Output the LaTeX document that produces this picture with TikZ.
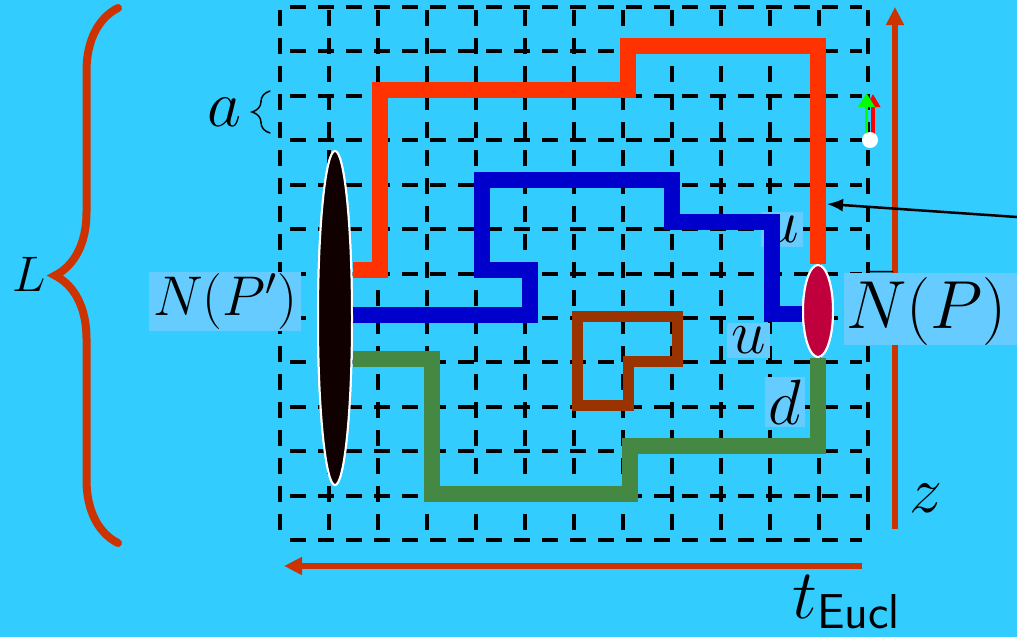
\RequirePackage{fix-cm}
\documentclass[tikz,border=0pt]{standalone}
\usepackage{tikz}
\usetikzlibrary{arrows.meta, shapes.geometric, decorations.pathreplacing, calc}
\definecolor{skyback}{HTML}{33CCFF}
\definecolor{tagback}{HTML}{66CCFF}
\definecolor{flame}{HTML}{FF3300}
\definecolor{rust}{HTML}{CC3300}
\definecolor{loopblue}{HTML}{0000CC}
\definecolor{loopgreen}{HTML}{448844}
\definecolor{loopbrown}{HTML}{993300}
\definecolor{crimson}{HTML}{C0003C}
\definecolor{nearblack}{HTML}{110000}
\newcommand{\fsz}[1]{\fontsize{#1}{#1}\selectfont}
\tikzset{
  gridline/.style={draw=black, line width=4pt, dash pattern=on 16pt off 12pt},
  linkpath/.style={line width=15.5pt, line join=miter},
  axisarrow/.style={draw=rust, line width=6pt, -{Triangle[length=18pt, width=17pt]}},
  pointer/.style={draw=black, line width=2.5pt, -{Latex[length=16pt, width=13pt]}},
  tag/.style={fill=tagback, inner sep=0pt, text=black},
  endcap/.style={ellipse, draw=white, line width=2pt, inner sep=0pt},
  bracket/.style={decorate, line cap=round},
}

\begin{document}
\begin{tikzpicture}[x=1pt, y=-1pt]
  \useasboundingbox (0,0) rectangle (1017,637);
  \fill[skyback] (0,0) rectangle (1017,637);

  % Lattice
  \foreach \i in {0,...,12}
    \draw[gridline] ({280+49*\i},10) -- ({280+49*\i},540);
  \foreach \j in {0,...,12}
    \draw[gridline] (290,{7+44.42*\j}) -- (862,{7+44.42*\j});

  % Axes
  \coordinate (zfoot) at (895,529);
  \coordinate (ztip) at (895,7);
  \coordinate (tfoot) at (862,566);
  \coordinate (ttip) at (284,566);
  \draw[axisarrow] (zfoot) -- (ztip);
  \draw[axisarrow] (tfoot) -- (ttip);

  % Braces
  \draw[bracket, draw=rust, line width=8pt, decoration={brace, amplitude=63pt}]
    (118,543) -- (118,8);
  \draw[bracket, draw=black, line width=1.5pt, decoration={brace, amplitude=18pt}]
    (270,133) -- (270,91);

  % Labels
  \node[font=\fsz{50}] (Llab) at (29,274) {$L$};
  \node[font=\fsz{66}] (alab) at (224.5,112.5) {$a$};
  \node[font=\fsz{66}] (zlab) at (926,498) {$z$};
  \node[font=\fsz{70}, anchor=base west] (tlab) at (789,618) {$t_{\mathsf{Eucl}}$};
  \node[tag, minimum width=152pt, minimum height=59pt, font=\fsz{56}] (nleft) at (225,301.5) {$N(P')$};
  \node[tag, anchor=west, text width=176pt, align=left, inner xsep=2pt, minimum height=68pt, font=\fsz{68}] (nright) at (844,309) {$\bar{N}(P)$};
  \node[tag, minimum width=42pt, minimum height=35pt, font=\fsz{62}] (uup) at (782,229.5) {$u$};
  \node[tag, minimum width=43pt, minimum height=35pt, font=\fsz{62}] (ulow) at (748.5,340.5) {$u$};
  \node[tag, minimum width=40pt, minimum height=50pt, font=\fsz{64}] (dlab) at (785,402) {$d$};

  % End points
  \node[endcap, fill=nearblack, minimum width=34pt, minimum height=334pt] (srcP) at (335,318) {};
  \node[endcap, fill=crimson, minimum width=30pt, minimum height=92pt] (snkP) at (818,311) {};

  % Paths between the end points
  \draw[linkpath, draw=flame] ([yshift=48pt]srcP.east) -- (380,270) -- (380,90)
    -- (628,90) -- (628,46) -| (snkP.north);
  \draw[linkpath, draw=loopblue] ([yshift=3pt]srcP.east) -- (530,315) -- (530,270)
    -- (482,270) -- (482,180) -- (672,180) -- (672,222) -- (772,222) |- ([yshift=-3pt]snkP.west);
  \draw[linkpath, draw=loopgreen] ([yshift=-41pt]srcP.east) -- (432,359) -- (432,494)
    -- (630,494) -- (630,446) -| (snkP.south);
  \draw[line width=11pt, line join=miter, draw=loopbrown]
    (577,316) -- (677,316) -- (677,361) -- (628,361) -- (628,405) -- (577,405) -- cycle;

  % End points again, over the paths
  \node[endcap, fill=nearblack, minimum width=34pt, minimum height=334pt] at (srcP) {};
  \node[endcap, fill=crimson, minimum width=30pt, minimum height=92pt] at (snkP) {};

  % Pointer
  \coordinate (ptrtail) at (1017,217);
  \coordinate (ptrtip) at (827,204);
  \draw[pointer] (ptrtail) -- (ptrtip);

  % Small frame
  \coordinate (redfoot) at (873,134);
  \coordinate (redtip) at (873,94);
  \coordinate (greenfoot) at (866.5,134);
  \coordinate (greentip) at (866.5,93);
  \draw[draw=red, line width=3.5pt, -{Triangle[length=13pt, width=14pt]}] (redfoot) -- (redtip);
  \draw[draw=green, line width=3.5pt, -{Triangle[length=14pt, width=16pt]}] (greenfoot) -- (greentip);
  \node[circle, fill=white, minimum size=16pt, inner sep=0pt] (pivot) at (870,140) {};
\end{tikzpicture}
\end{document}
